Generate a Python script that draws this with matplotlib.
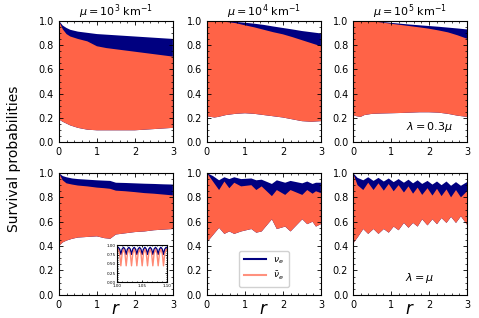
import matplotlib
matplotlib.use('Agg')
import matplotlib.pyplot as plt
from matplotlib.ticker import AutoMinorLocator

NAVY = '#000080'
SALMON = '#ff6347'

# --- top row: lambda = 0.3 mu (envelopes of the fast oscillations) ---
r_top = [0, 0.1, 0.2, 0.3, 0.5, 0.75, 1.0, 1.25, 1.5, 1.75, 2.0, 2.25, 2.5, 2.75, 3.0]

tl_nue_hi = [1.0, 0.96, 0.94, 0.925, 0.91, 0.90, 0.89, 0.885, 0.88, 0.875, 0.87, 0.865, 0.86, 0.855, 0.85]
tl_anue_hi = [1.0, 0.93, 0.89, 0.87, 0.85, 0.83, 0.79, 0.775, 0.765, 0.755, 0.745, 0.735, 0.725, 0.715, 0.705]
tl_anue_lo = [0.19, 0.17, 0.155, 0.14, 0.12, 0.105, 0.10, 0.10, 0.10, 0.10, 0.10, 0.105, 0.11, 0.115, 0.12]

tm_nue_hi = [1.0, 1.0, 1.0, 0.998, 0.995, 0.99, 0.983, 0.975, 0.965, 0.952, 0.94, 0.928, 0.915, 0.905, 0.895]
tm_anue_hi = [1.0, 1.0, 0.998, 0.995, 0.99, 0.98, 0.962, 0.945, 0.925, 0.905, 0.888, 0.865, 0.84, 0.815, 0.79]
tm_anue_lo = [0.215, 0.21, 0.205, 0.21, 0.225, 0.235, 0.24, 0.235, 0.225, 0.215, 0.205, 0.19, 0.175, 0.17, 0.175]

tr_nue_hi = [1.0, 1.0, 1.0, 1.0, 0.998, 0.99, 0.982, 0.975, 0.968, 0.962, 0.956, 0.95, 0.943, 0.936, 0.928]
tr_anue_hi = [1.0, 1.0, 1.0, 0.998, 0.995, 0.985, 0.975, 0.965, 0.955, 0.945, 0.934, 0.92, 0.904, 0.88, 0.852]
tr_anue_lo = [0.225, 0.215, 0.21, 0.225, 0.235, 0.238, 0.24, 0.242, 0.245, 0.248, 0.248, 0.245, 0.235, 0.22, 0.21]

# --- bottom row: lambda = mu ---
r_bl = [0, 0.1, 0.2, 0.35, 0.5, 0.75, 1.0, 1.2, 1.35, 1.5, 1.75, 2.0, 2.25, 2.5, 2.75, 3.0]
bl_nue_hi = [1.0, 0.975, 0.965, 0.955, 0.95, 0.945, 0.94, 0.937, 0.935, 0.92, 0.918, 0.915, 0.912, 0.91, 0.907, 0.905]
bl_anue_hi = [1.0, 0.94, 0.915, 0.905, 0.897, 0.89, 0.88, 0.875, 0.87, 0.855, 0.85, 0.843, 0.835, 0.83, 0.823, 0.816]
bl_anue_lo = [0.40, 0.43, 0.445, 0.46, 0.47, 0.475, 0.48, 0.465, 0.46, 0.495, 0.505, 0.515, 0.52, 0.53, 0.535, 0.54]

r_bm = [0, 0.16, 0.32, 0.46, 0.59, 0.72, 0.90, 1.17, 1.30, 1.44, 1.71, 1.84, 2.06, 2.20, 2.51, 2.64, 2.78, 2.87, 3.0]
bm_nue_hi = [1.0, 0.975, 0.94, 0.965, 0.95, 0.965, 0.95, 0.955, 0.94, 0.945, 0.91, 0.94, 0.92, 0.935, 0.915, 0.93, 0.91, 0.92, 0.92]
bm_anue_hi = [1.0, 0.93, 0.86, 0.93, 0.875, 0.92, 0.89, 0.90, 0.86, 0.89, 0.81, 0.86, 0.82, 0.86, 0.82, 0.86, 0.83, 0.85, 0.835]
bm_anue_lo = [0.43, 0.49, 0.55, 0.50, 0.52, 0.50, 0.52, 0.54, 0.51, 0.52, 0.62, 0.54, 0.56, 0.52, 0.62, 0.58, 0.60, 0.56, 0.58]

r_br = [0, 0.12, 0.27, 0.40, 0.54, 0.67, 0.81, 0.94, 1.07, 1.20, 1.34, 1.46, 1.58, 1.70,
        1.82, 1.96, 2.09, 2.21, 2.33, 2.46, 2.58, 2.71, 2.84, 3.0]
br_nue_hi = [1.0, 0.96, 0.94, 0.965, 0.935, 0.96, 0.93, 0.955, 0.925, 0.95, 0.92, 0.945, 0.915, 0.94,
             0.91, 0.935, 0.905, 0.93, 0.90, 0.93, 0.895, 0.925, 0.895, 0.925]
br_anue_hi = [1.0, 0.90, 0.86, 0.92, 0.86, 0.915, 0.855, 0.91, 0.85, 0.90, 0.84, 0.89, 0.83, 0.88,
              0.82, 0.875, 0.815, 0.87, 0.81, 0.865, 0.80, 0.86, 0.80, 0.85]
br_anue_lo = [0.42, 0.47, 0.54, 0.50, 0.54, 0.50, 0.54, 0.51, 0.56, 0.53, 0.59, 0.55, 0.59, 0.56,
              0.62, 0.57, 0.62, 0.58, 0.63, 0.59, 0.64, 0.59, 0.645, 0.575]

# --- inset (zoom of bottom-left panel, r in [1.00, 1.10]) ---
inset_r = [1.0000, 1.0027, 1.0055, 1.0080, 1.0105, 1.0134, 1.0162, 1.0187, 1.0212, 1.0241,
           1.0269, 1.0294, 1.0319, 1.0348, 1.0376, 1.0401, 1.0426, 1.0455, 1.0483, 1.0508,
           1.0533, 1.0562, 1.0590, 1.0615, 1.0640, 1.0669, 1.0697, 1.0722, 1.0747, 1.0776,
           1.0804, 1.0829, 1.0854, 1.0883, 1.0911, 1.0936, 1.0961, 1.0990, 1.1000]
inset_nue = [0.94, 0.95, 0.90, 0.76, 0.90, 0.95, 0.90, 0.76, 0.90, 0.95,
             0.90, 0.76, 0.90, 0.95, 0.90, 0.76, 0.90, 0.95, 0.90, 0.76,
             0.90, 0.95, 0.90, 0.76, 0.90, 0.95, 0.90, 0.76, 0.90, 0.95,
             0.90, 0.76, 0.90, 0.95, 0.90, 0.76, 0.90, 0.95, 0.94]
inset_anue = [0.88, 0.90, 0.78, 0.45, 0.78, 0.90, 0.78, 0.45, 0.78, 0.90,
              0.78, 0.45, 0.78, 0.90, 0.78, 0.45, 0.78, 0.90, 0.78, 0.45,
              0.78, 0.90, 0.78, 0.45, 0.78, 0.90, 0.78, 0.45, 0.78, 0.90,
              0.78, 0.45, 0.78, 0.90, 0.78, 0.45, 0.78, 0.90, 0.88]

titles = [r'$\mu = 10^3$ km$^{-1}$', r'$\mu = 10^4$ km$^{-1}$', r'$\mu = 10^5$ km$^{-1}$']


def style_axis(ax, size=7):
    ax.tick_params(which='both', direction='in', top=True, right=True, labelsize=size)
    ax.tick_params(which='major', length=3, width=0.6)
    ax.tick_params(which='minor', length=1.5, width=0.5)
    ax.xaxis.set_minor_locator(AutoMinorLocator())
    ax.yaxis.set_minor_locator(AutoMinorLocator())
    for s in ax.spines.values():
        s.set_linewidth(0.8)


def draw_band(ax, r, nue_hi, anue_hi, anue_lo):
    """nu_e band first, anti-nu_e band on top of it."""
    ax.fill(list(r) + list(r)[::-1], list(nue_hi) + list(anue_lo)[::-1],
            color=NAVY, lw=0)
    ax.fill(list(r) + list(r)[::-1], list(anue_hi) + list(anue_lo)[::-1],
            color=SALMON, lw=0)
    ax.set_xlim(0, 3)
    ax.set_ylim(0, 1)
    ax.set_xticks([0, 1, 2, 3])
    ax.set_yticks([0, 0.2, 0.4, 0.6, 0.8, 1.0])
    style_axis(ax)


def main():
    fig = plt.figure(figsize=(4.79, 3.18), dpi=100)

    lefts = [0.123, 0.432, 0.737]
    w = 0.238
    top_b, bot_b, h = 0.552, 0.073, 0.383

    panels_top = [(tl_nue_hi, tl_anue_hi, tl_anue_lo),
                  (tm_nue_hi, tm_anue_hi, tm_anue_lo),
                  (tr_nue_hi, tr_anue_hi, tr_anue_lo)]
    panels_bot = [(r_bl, bl_nue_hi, bl_anue_hi, bl_anue_lo),
                  (r_bm, bm_nue_hi, bm_anue_hi, bm_anue_lo),
                  (r_br, br_nue_hi, br_anue_hi, br_anue_lo)]

    for i, (nh, ah, al) in enumerate(panels_top):
        ax = fig.add_axes([lefts[i], top_b, w, h])
        draw_band(ax, r_top, nh, ah, al)
        ax.set_title(titles[i], fontsize=8, pad=3)
        if i == 2:
            ax.text(2.0, 0.13, r'$\lambda = 0.3\mu$', fontsize=8, ha='center', va='center')

    bot_axes = []
    for i, (r, nh, ah, al) in enumerate(panels_bot):
        ax = fig.add_axes([lefts[i], bot_b, w, h])
        draw_band(ax, r, nh, ah, al)
        ax.set_xlabel(r'$r$', fontsize=12)
        ax.xaxis.set_label_coords(0.5, -0.04)
        bot_axes.append(ax)

    bot_axes[2].text(1.75, 0.14, r'$\lambda = \mu$', fontsize=8, ha='center', va='center')

    # legend with line handles
    ax = bot_axes[1]
    ax.plot([], [], color=NAVY, lw=1.5, label=r'$\nu_e$')
    ax.plot([], [], color=SALMON, lw=1.5, alpha=0.7, label=r'$\bar{\nu}_e$')
    ax.legend(loc='lower center', bbox_to_anchor=(0.5, 0.03), fontsize=6.5,
              handlelength=2.5, borderpad=0.5, labelspacing=0.4, framealpha=0.9)

    # inset on bottom-left panel
    axi = fig.add_axes([0.244, 0.112, 0.104, 0.116])
    axi.plot(inset_r, inset_nue, color=NAVY, lw=1.0)
    axi.plot(inset_r, inset_anue, color=SALMON, lw=1.0, alpha=0.75)
    axi.set_xlim(1.0, 1.1)
    axi.set_ylim(0, 1)
    axi.set_xticks([1.0, 1.05, 1.1])
    axi.set_xticklabels(['1.00', '1.05', '1.10'])
    axi.set_yticks([0, 0.25, 0.5, 0.75, 1.0])
    axi.set_yticklabels(['0.00', '0.25', '0.50', '0.75', '1.00'])
    style_axis(axi, size=3)
    axi.tick_params(which='major', length=1.5, pad=1)
    axi.tick_params(which='minor', length=0.8)

    fig.text(0.03, 0.5, 'Survival probabilities', rotation=90, fontsize=10,
             ha='center', va='center')

    fig.savefig('out.png', dpi=100)
    plt.close(fig)


if __name__ == "__main__":
    main()
